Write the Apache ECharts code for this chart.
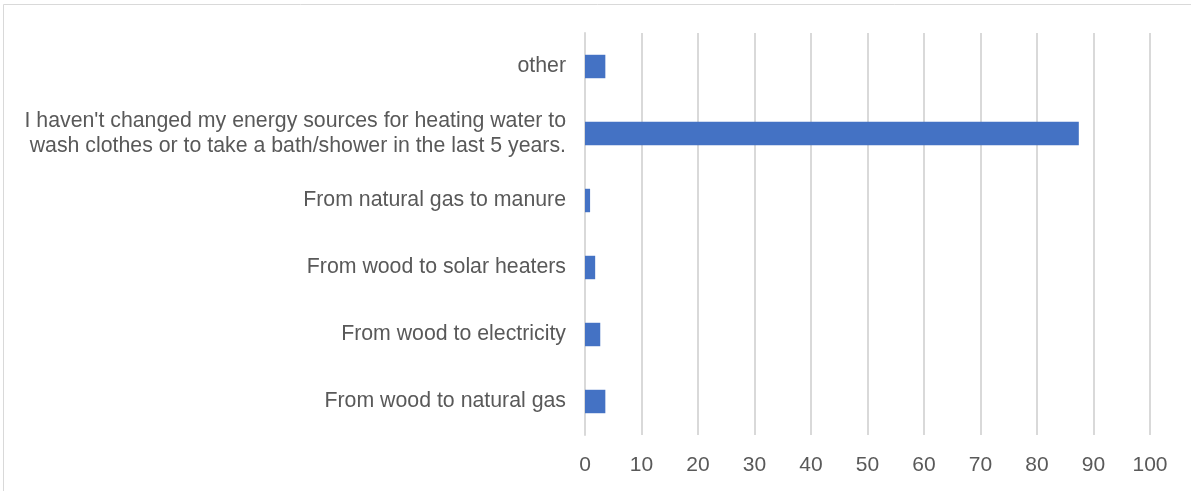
<!DOCTYPE html>
<html>
<head>
<meta charset="utf-8">
<script src="https://cdn.jsdelivr.net/npm/echarts@6/dist/echarts.min.js"></script>
<style>
  html, body { margin: 0; padding: 0; background: #fff; }
  #chart { width: 1191px; height: 491px; }
</style>
</head>
<body>
<div id="chart"></div>
<script>
// categories bottom -> top (category axis draws first item at the bottom)
var categories = [
  "From wood to natural gas",
  "From wood to electricity",
  "From wood to solar heaters",
  "From natural gas to manure",
  "I haven't changed my energy sources for heating water to\nwash clothes or to take a bath/shower in the last 5 years.",
  "other"
];
var values = [3.6, 2.7, 1.8, 0.9, 87.4, 3.6];
var xTicks = [0, 10, 20, 30, 40, 50, 60, 70, 80, 90, 100];

var chart = echarts.init(document.getElementById('chart'));
chart.setOption({
  animation: false,
  textStyle: { fontFamily: 'Liberation Sans, Arial, sans-serif' },
  graphic: [{
    type: 'rect',
    shape: { x: 3.5, y: 4.5, width: 1200, height: 500 },
    style: { fill: 'none', stroke: '#d9d9d9', lineWidth: 1 },
    silent: true
  }],
  grid: { left: 585, right: 41, top: 33, bottom: 56 },
  xAxis: {
    type: 'value',
    min: xTicks[0],
    max: xTicks[xTicks.length - 1],
    interval: 10,
    axisLine: { show: false },
    axisTick: { show: false },
    splitLine: { lineStyle: { color: '#d9d9d9', width: 2 } },
    axisLabel: { color: '#595959', fontSize: 21, margin: 20 }
  },
  yAxis: {
    type: 'category',
    data: categories,
    axisTick: { show: false },
    axisLine: { show: true, lineStyle: { color: '#d9d9d9', width: 2 } },
    axisLabel: { color: '#595959', fontSize: 21.3, margin: 19, lineHeight: 25, align: 'right' }
  },
  series: [{
    type: 'bar',
    data: values,
    barWidth: '35%',
    itemStyle: { color: '#4472c4' }
  }]
});
</script>
</body>
</html>
